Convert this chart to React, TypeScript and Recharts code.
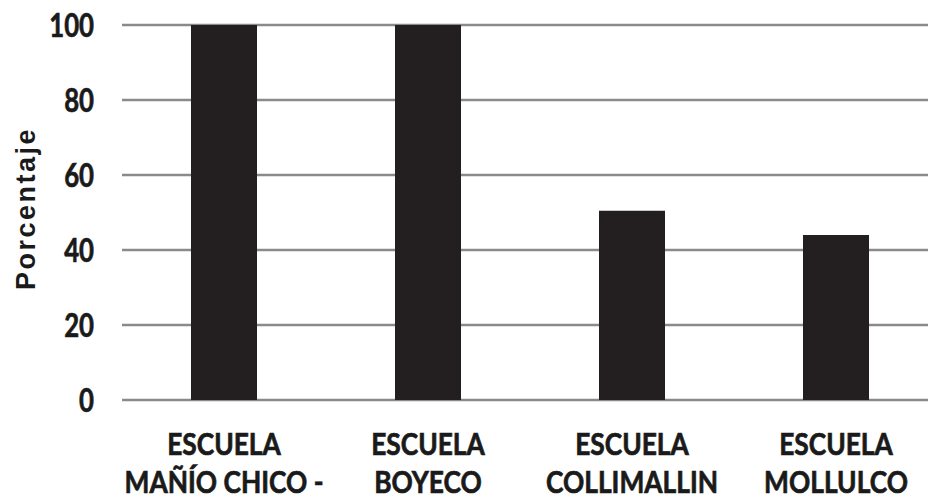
import { BarChart, Bar, XAxis, YAxis, CartesianGrid, Label } from "recharts";

// Escuelas y porcentajes
const schoolPrefix = ["ESCUELA", "ESCUELA", "ESCUELA", "ESCUELA"];
const schoolNames = ["MAÑÍO CHICO -", "BOYECO", "COLLIMALLIN", "MOLLULCO"];
const percentages = [100, 100, 50.5, 44];
const yTicks = [0, 20, 40, 60, 80, 100];

const data = schoolNames.map((name, i) => ({
    key: schoolPrefix[i] + " " + name,
    prefix: schoolPrefix[i],
    name: name,
    value: percentages[i],
}));

const labelFont = "Lato, 'Open Sans', sans-serif";

function SchoolTick(props: any) {
    const { x, payload, index } = props;
    const row = data[index] || { prefix: "", name: payload.value };
    return (
        <g transform={`translate(${x},0) scale(0.85,1)`}>
            <text
                textAnchor="middle"
                fill="#1a1a1a"
                stroke="#1a1a1a"
                strokeWidth={0.7}
                fontFamily={labelFont}
                fontWeight="bold"
                fontSize={31}
            >
                <tspan x={0} y={455}>{row.prefix}</tspan>
                <tspan x={0} y={493}>{row.name}</tspan>
            </text>
        </g>
    );
}

function ValueTick(props: any) {
    const { y, payload } = props;
    return (
        <g transform={`translate(94,${y + 12}) scale(0.78,1)`}>
            <text
                x={0}
                y={0}
                textAnchor="end"
                fill="#1a1a1a"
                stroke="#1a1a1a"
                strokeWidth={0.7}
                fontFamily={labelFont}
                fontWeight="bold"
                fontSize={33}
            >
                {payload.value}
            </text>
        </g>
    );
}

function AxisTitle(props: any) {
    const { viewBox } = props;
    const cy = viewBox ? viewBox.y + viewBox.height / 2 : 210;
    return (
        <text
            transform={`translate(35,${cy - 4}) rotate(-90)`}
            textAnchor="middle"
            fill="#1a1a1a"
            fontFamily="'Liberation Sans', Arial, sans-serif"
            fontWeight="bold"
            fontSize={27}
            letterSpacing={2.5}
        >
            Porcentaje
        </text>
    );
}

function App() {
    return (
        <div
            style={{
                position: "absolute",
                left: 0,
                top: 0,
                width: 928,
                height: 504,
                overflow: "hidden",
                background: "#fff",
            }}
        >
            <BarChart
                width={938}
                height={504}
                data={data}
                margin={{ top: 25, right: 0, left: 0, bottom: 0 }}
                barCategoryGap={0}
            >
                <CartesianGrid vertical={false} stroke="#8a8a8a" strokeWidth={2.5} />
                <XAxis
                    dataKey="key"
                    height={104}
                    axisLine={false}
                    tickLine={false}
                    interval={0}
                    tick={<SchoolTick />}
                />
                <YAxis
                    width={122}
                    domain={[0, 100]}
                    ticks={yTicks}
                    axisLine={false}
                    tickLine={false}
                    tick={<ValueTick />}
                >
                    <Label content={<AxisTitle />} />
                </YAxis>
                <Bar dataKey="value" fill="#231f20" barSize={66} isAnimationActive={false} />
            </BarChart>
        </div>
    );
}

export default App;
